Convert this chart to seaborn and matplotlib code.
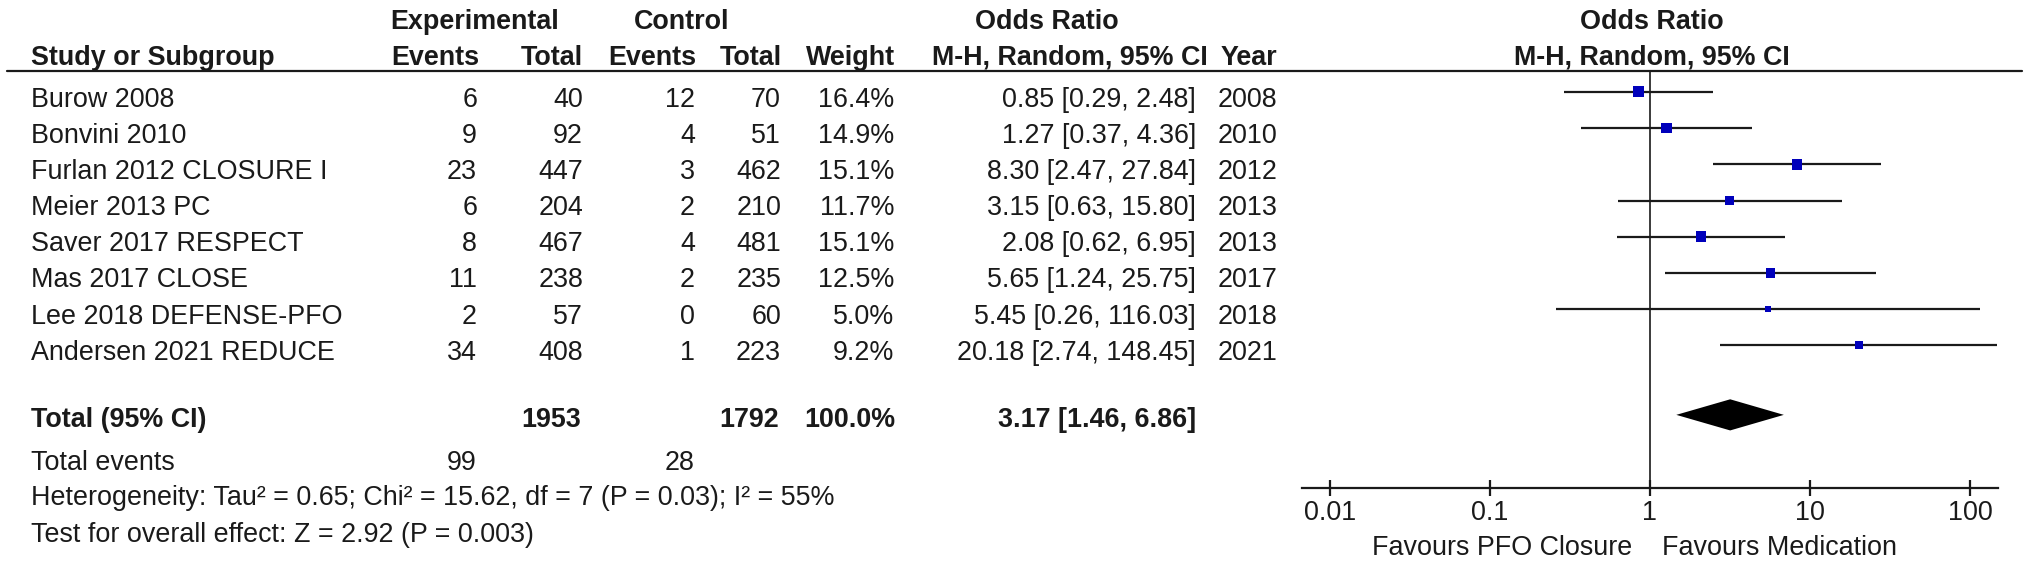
import numpy as np
import seaborn as sns
import matplotlib.pyplot as plt
from matplotlib.lines import Line2D

# study data
studies = ["Burow 2008", "Bonvini 2010", "Furlan 2012 CLOSURE I", "Meier 2013 PC",
           "Saver 2017 RESPECT", "Mas 2017 CLOSE", "Lee 2018 DEFENSE-PFO", "Andersen 2021 REDUCE"]
exp_events = [6, 9, 23, 6, 8, 11, 2, 34]
exp_total = [40, 92, 447, 204, 467, 238, 57, 408]
ctrl_events = [12, 4, 3, 2, 4, 2, 0, 1]
ctrl_total = [70, 51, 462, 210, 481, 235, 60, 223]
weights = [16.4, 14.9, 15.1, 11.7, 15.1, 12.5, 5.0, 9.2]
odds = [0.85, 1.27, 8.30, 3.15, 2.08, 5.65, 5.45, 20.18]
ci_low = [0.29, 0.37, 2.47, 0.63, 0.62, 1.24, 0.26, 2.74]
ci_high = [2.48, 4.36, 27.84, 15.80, 6.95, 25.75, 116.03, 148.45]
years = [2008, 2010, 2012, 2013, 2013, 2017, 2018, 2021]

total_or, total_lo, total_hi = 3.17, 1.46, 6.86
total_exp, total_ctrl = 1953, 1792
total_weight = 100.0
events_exp, events_ctrl = 99, 28
heterogeneity = "Heterogeneity: Tau² = 0.65; Chi² = 15.62, df = 7 (P = 0.03); I² = 55%"
overall = "Test for overall effect: Z = 2.92 (P = 0.003)"
tick_vals = [0.01, 0.1, 1, 10, 100]
tick_labels = ["0.01", "0.1", "1", "10", "100"]

sns.set_style("white")
plt.rcParams['font.family'] = ['Liberation Sans', 'DejaVu Sans']
plt.rcParams['font.size'] = 19.4
plt.rcParams['text.color'] = '#1a1a1a'

W, H = 2029, 564
fig = plt.figure(figsize=(W / 100, H / 100), dpi=100)


def put(x, y, s, ha='left', bold=False):
    # x, y in pixels from top-left, y is the visual middle of the text
    fig.text(x / W, 1 - (y + 9.7) / H, s, ha=ha, va='baseline',
             fontweight='bold' if bold else 'normal')


# header
put(475, 19, "Experimental", ha='center', bold=True)
put(682, 19, "Control", ha='center', bold=True)
put(1047, 19, "Odds Ratio", ha='center', bold=True)
put(1652, 19, "Odds Ratio", ha='center', bold=True)
put(31, 55, "Study or Subgroup", bold=True)
put(479, 55, "Events", ha='right', bold=True)
put(583, 55, "Total", ha='right', bold=True)
put(696, 55, "Events", ha='right', bold=True)
put(782, 55, "Total", ha='right', bold=True)
put(895, 55, "Weight", ha='right', bold=True)
put(1208, 55, "M-H, Random, 95% CI", ha='right', bold=True)
put(1221, 55, "Year", bold=True)
put(1652, 55, "M-H, Random, 95% CI", ha='center', bold=True)
fig.add_artist(Line2D([7 / W, 2022 / W], [1 - 71 / H, 1 - 71 / H], color='#1a1a1a', lw=1.6))

# study rows
row_h = 36.15
for i, name in enumerate(studies):
    y = 97 + i * row_h
    put(31, y, name)
    put(477, y, str(exp_events[i]), ha='right')
    put(583, y, str(exp_total[i]), ha='right')
    put(695, y, str(ctrl_events[i]), ha='right')
    put(781, y, str(ctrl_total[i]), ha='right')
    put(894, y, f"{weights[i]:.1f}%", ha='right')
    put(1196, y, f"{odds[i]:.2f} [{ci_low[i]:.2f}, {ci_high[i]:.2f}]", ha='right')
    put(1218, y, str(years[i]))

# totals and footer
put(31, 417, "Total (95% CI)", bold=True)
put(581, 417, str(total_exp), ha='right', bold=True)
put(779, 417, str(total_ctrl), ha='right', bold=True)
put(895, 417, f"{total_weight:.1f}%", ha='right', bold=True)
put(1196, 417, f"{total_or:.2f} [{total_lo:.2f}, {total_hi:.2f}]", ha='right', bold=True)
put(31, 460, "Total events")
put(477, 460, str(events_exp), ha='right')
put(695, 460, str(events_ctrl), ha='right')
put(31, 495, heterogeneity)
put(31, 532, overall)

# forest plot axes
ax = fig.add_axes([1302 / W, 1 - 488 / H, 696 / W, (488 - 72) / H])
rows = np.arange(len(studies))
total_row = 8.92
ax.hlines(rows, ci_low, ci_high, color='#1a1a1a', lw=1.6)
sns.scatterplot(x=odds, y=rows, size=weights, sizes=(3.85 * min(weights), 3.85 * max(weights)),
                marker='s', color='#0000bb', linewidth=0, legend=False, ax=ax, zorder=3)
dh = 0.43
ax.fill([total_lo, total_or, total_hi, total_or],
        [total_row, total_row - dh, total_row, total_row + dh], color='black', lw=0)
ax.axvline(1, color='#1a1a1a', lw=1.2)

ax.set_xscale('log')
ax.set_xlim(10 ** -2.175, 10 ** 2.175)
ax.set_ylim(10.94, -0.55)
ax.set_xticks(tick_vals)
ax.set_xticklabels(tick_labels)
ax.minorticks_off()
ax.set_yticks([])
ax.set_xlabel("")
ax.set_ylabel("")
for side in ['left', 'right', 'top']:
    ax.spines[side].set_visible(False)
ax.spines['bottom'].set_color('#1a1a1a')
ax.spines['bottom'].set_linewidth(1.6)
ax.tick_params(axis='x', bottom=True, direction='inout', length=12, width=1.6, color='#1a1a1a',
               labelsize=19.4, labelcolor='#1a1a1a', pad=3)
ax.patch.set_alpha(0)

put(1632, 545, "Favours PFO Closure", ha='right')
put(1662, 545, "Favours Medication")

fig.savefig("out.png", dpi=100)
